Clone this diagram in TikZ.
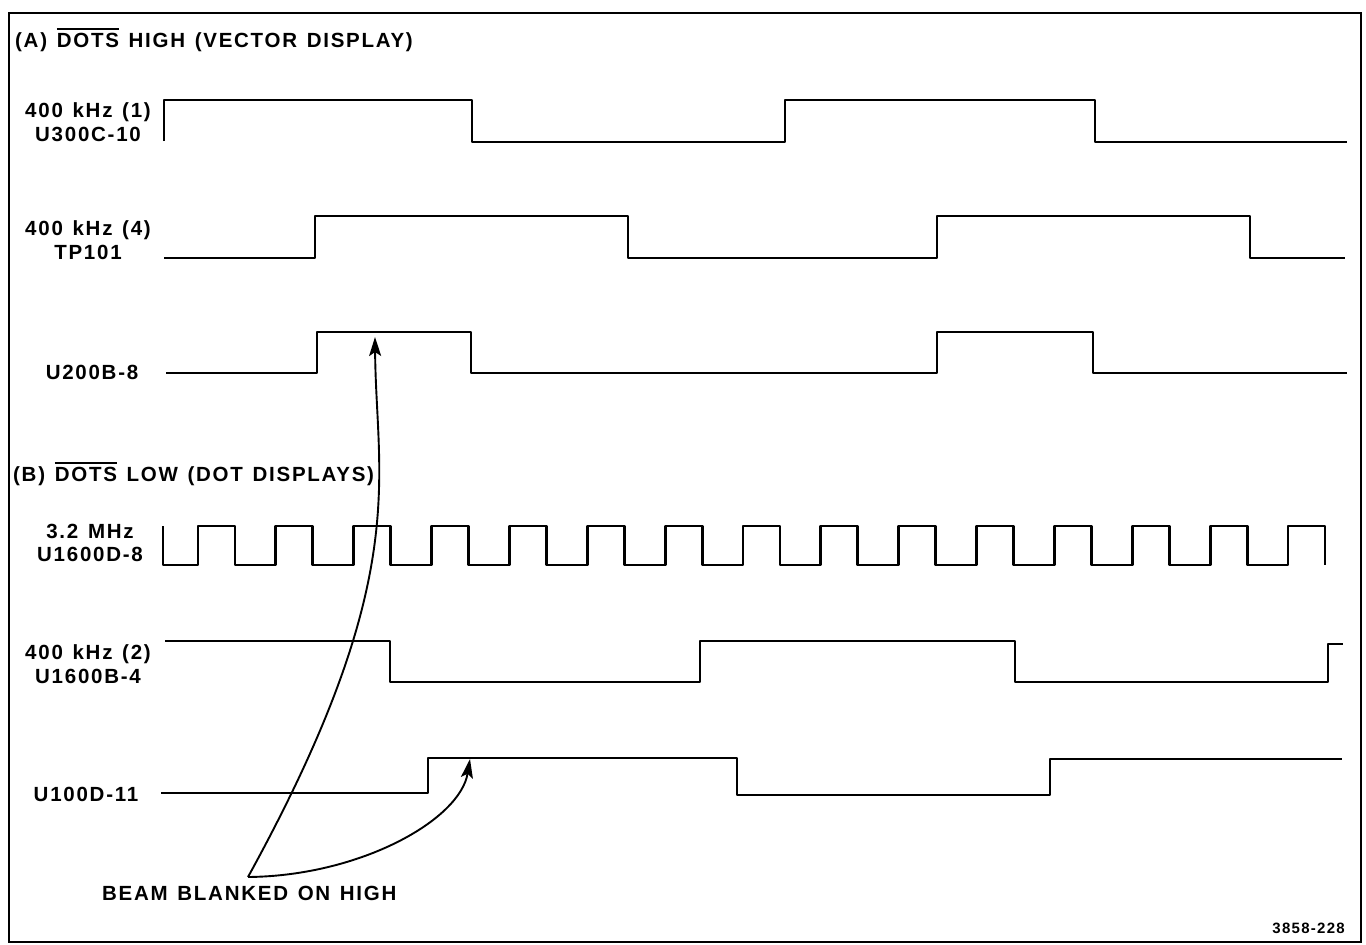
\documentclass[tikz,border=0pt]{standalone}
\usepackage{fontspec}
\setmainfont{Liberation Sans}
\newfontfamily\labelfont{Liberation Sans}[LetterSpace=8.5, WordSpace=1.3]
\usetikzlibrary{arrows.meta}
\newcommand\negbar[1]{\leavevmode\vbox{\hrule height 1.8pt\kern 3.6pt\hbox{#1}}}

\begin{document}
\begin{tikzpicture}[x=1pt, y=-1pt,
    wave/.style={line width=2.8pt, line join=round},
    signame/.style={font=\labelfont\bfseries\fontsize{20.5}{23.5}\selectfont, align=center, inner sep=0pt},
    heading/.style={font=\labelfont\bfseries\fontsize{20.5}{23.5}\selectfont, anchor=west, inner sep=0pt},
    arr/.style={-{Stealth[length=19pt, width=12pt, inset=4pt]}, line width=1.9pt}]
  \useasboundingbox (0,0) rectangle (1366,945);
  \draw[line width=2pt] (9,13) rectangle (1361,942);

  \node[heading] (titleA) at (15,40) {(A) \negbar{DOTS} HIGH (VECTOR DISPLAY)};
  \node[signame] (f400a) at (88,122) {400 kHz (1)\\U300C-10};
  \node[signame] (f400d) at (88,240) {400 kHz (4)\\TP101};
  \node[signame] (u200) at (92,372) {U200B-8};
  \node[heading] (titleB) at (13,474) {(B) \negbar{DOTS} LOW (DOT DISPLAYS)};
  \node[signame] (clk) at (90,543) {3.2 MHz\\U1600D-8};
  \node[signame] (f400b) at (88,664) {400 kHz (2)\\U1600B-4};
  \node[signame] (u100) at (86,794) {U100D-11};

  \draw[wave] (164,141) -- (164,100) -| (472,142) -| (785,100) -| (1095,142) -- (1347,142);
  \draw[wave] (164,258) -| (315,216) -| (628,258) -| (937,216) -| (1250,258) -- (1345,258);
  \draw[wave] (166,373) -| (317,332) -| (471,373) -| (937,332) -| (1093,373) -- (1347,373);
  \draw[wave] (163,526) -- (163,565) -| (198,526)
    \foreach \k in {0,...,13} { -| ({235+77.86*\k},565) -| ({275.86+77.86*\k},526) }
    -| (1325,565);
  \draw[wave] (165,641) -| (390,682) -| (700,641) -| (1015,682) -| (1328,644) -- (1343,644);
  \draw[wave] (161,793) -| (428,758) -| (737,795) -| (1050,759) -- (1342,759);

  \coordinate (beam) at (248,877);
  \coordinate (hiA) at (375,337);
  \coordinate (hiB) at (470,759);
  \node[heading] (beamtxt) at (102,893) {BEAM BLANKED ON HIGH};
  \draw[arr] (beam) .. controls (413,577) and (376,480) .. (hiA);
  \draw[arr] (beam) .. controls (360,876) and (460,820) .. (hiB);

  \node[font=\labelfont\bfseries\fontsize{15}{16}\selectfont, anchor=east, inner sep=0pt] (figno) at (1345,928) {3858-228};
\end{tikzpicture}
\end{document}
